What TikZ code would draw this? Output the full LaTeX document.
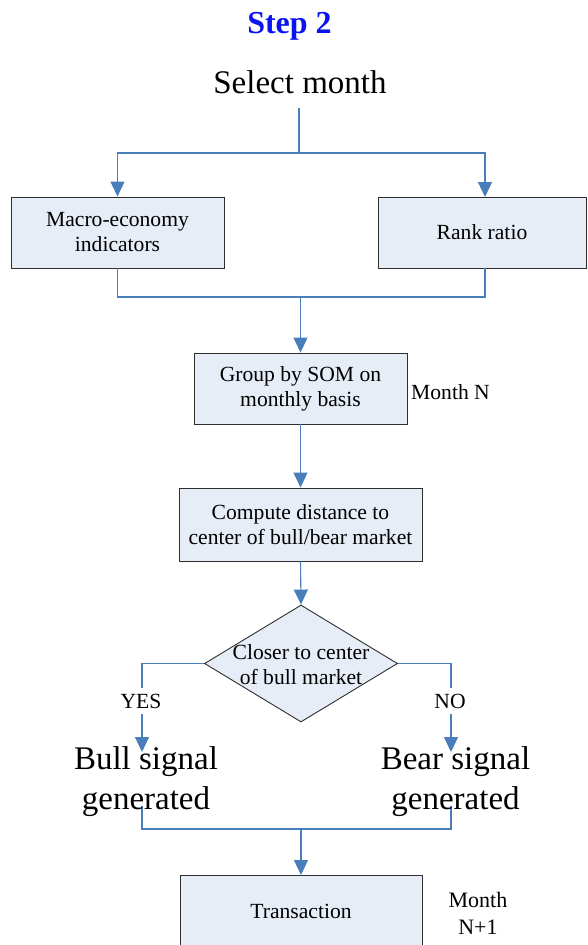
\documentclass[tikz,border=0pt]{standalone}
\usepackage{fontspec}
\setmainfont{Liberation Serif}
\usetikzlibrary{arrows.meta,shapes.geometric}
\definecolor{boxfill}{HTML}{E7EDF7}
\definecolor{flow}{HTML}{4A7EBB}
\definecolor{edge}{HTML}{2E2E2E}
\definecolor{titleblue}{HTML}{0A14F0}
\begin{document}
\begin{tikzpicture}[x=1pt,y=-1pt,
  box/.style={draw=edge, fill=boxfill, line width=0.9pt, inner sep=0pt,
    align=center, font=\fontsize{21.6}{25}\selectfont},
  flowline/.style={draw=flow, line width=1.1pt},
  flowarrow/.style={flowline, -{Triangle[length=15pt,width=14pt]}},
  big/.style={align=center, font=\fontsize{33}{40}\selectfont, inner sep=0pt},
  small/.style={align=center, font=\fontsize{21.6}{25}\selectfont, inner sep=0pt}]

\useasboundingbox (0,0) rectangle (587,945);
\clip (0,0) rectangle (587,945);

% headings
\node[anchor=base, inner sep=0pt, text=titleblue,
  font=\bfseries\fontsize{32}{32}\selectfont] (title) at (289.5,33) {Step 2};
\node[anchor=base, inner sep=0pt, font=\fontsize{33}{33}\selectfont]
  (select) at (300,93) {Select month};

% process boxes
\node[box, minimum width=213pt, minimum height=71pt] (macro) at (117.5,232.5)
  {Macro-economy\\indicators};
\node[box, minimum width=208pt, minimum height=71pt] (rank) at (482,232.5)
  {Rank ratio};
\node[box, minimum width=213pt, minimum height=71pt] (som) at (300.5,388.5)
  {Group by SOM on\\monthly basis};
\node[box, minimum width=243pt, minimum height=73pt] (dist) at (300.5,524.5)
  {Compute distance to\\center of bull/bear market};
\node[diamond, draw=edge, fill=boxfill, line width=0.9pt, inner sep=0pt,
  minimum width=193pt, minimum height=117pt] (dec) at (301,663.5) {};
\node[small] (dectext) at (301,665) {Closer to center\\of bull market};
\node[box, minimum width=242pt, minimum height=90pt, anchor=north]
  (trans) at (301,875) {};
\node[small] (transtext) at (301,911) {Transaction};

% side notes
\node[small, anchor=base west] (monthn) at (411,399) {Month N};
\node[align=center, inner sep=0pt, font=\fontsize{22}{27}\selectfont]
  (monthn1) at (478,913) {Month\\N+1};

% connectors
\coordinate (stail) at (299,108);
\coordinate (split) at (299,153);
\coordinate (merge) at (300.5,297);
\coordinate (rankin) at (485,197);
\coordinate (rankout) at (485,268);
\draw[flowline] (stail) -- (split);
\draw[flowarrow] (split) -| (macro.north);
\draw[flowarrow] (split) -| (rankin);
\draw[flowline] (macro.south) |- (merge) -| (rankout);
\draw[flowarrow] (merge) -- (som.north);
\draw[flowarrow] (som.south) -- (dist.north);
\draw[flowarrow] (dist.south) -- (dec.north);

\coordinate (bullin) at (142,752);
\coordinate (bearin) at (451,752);
\draw[flowarrow] (dec.west) -| (bullin);
\draw[flowarrow] (dec.east) -| (bearin);
\node[small, fill=white, inner xsep=2pt, inner ysep=6pt] (yes) at (141,701) {YES};
\node[small, fill=white, inner xsep=2pt, inner ysep=6pt] (no) at (450,701) {NO};

\coordinate (bullout) at (142,806);
\coordinate (bearout) at (451,806);
\coordinate (join) at (301,829);
\draw[flowline] (bullout) |- (join) -| (bearout);
\draw[flowarrow] (join) -- (trans.north);

% outcomes
\node[big] (bull) at (146,782) {Bull signal\\generated};
\node[big] (bear) at (455.5,782) {Bear signal\\generated};
\end{tikzpicture}
\end{document}
